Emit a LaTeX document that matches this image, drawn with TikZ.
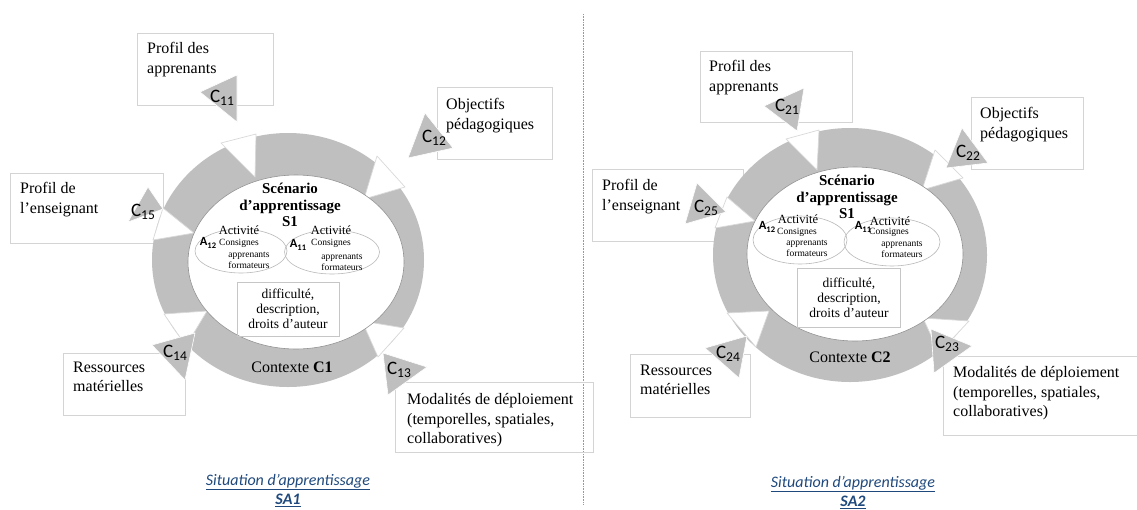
\documentclass[tikz,border=0pt]{standalone}
\usepackage{fontspec}
\setmainfont{Liberation Serif}
\newfontfamily\calibri{Carlito}
\usepackage{xcolor}
\usepackage{tikz}
\usetikzlibrary{positioning,shapes.geometric}

\definecolor{ringgray}{HTML}{BFBFBF}
\definecolor{boxline}{HTML}{D4D4D4}
\definecolor{gapline}{HTML}{D9D9D9}
\definecolor{titleblue}{HTML}{1F497D}

\newcommand{\clab}[1]{{\calibri\fontsize{19}{19}\selectfont C\raisebox{-0.3ex}{\fontsize{13.5}{13.5}\selectfont #1}}}
\newcommand{\alab}[1]{{\calibri\bfseries\fontsize{12.5}{12.5}\selectfont A\raisebox{-0.35ex}{\fontsize{8.5}{8.5}\selectfont #1}}}

\begin{document}
\begin{tikzpicture}[
    x=1pt, y=-1pt,
    infobox/.style={draw=boxline, line width=0.7pt},
    boxtext/.style={anchor=north west, inner sep=0pt, align=left, font=\fontsize{16}{19.5}\selectfont},
    ctri/.style={fill=ringgray, draw=white, line width=0.6pt, line join=round},
    clabel/.style={inner sep=0pt},
    gapwedge/.style={fill=white, draw=gapline, line width=0.7pt, line join=round},
    coreell/.style={ellipse, fill=white, draw=gray!85, line width=0.6pt, inner sep=0pt},
    actell/.style={ellipse, draw=gray!55, line width=0.6pt, inner sep=0pt},
    scentext/.style={align=center, inner sep=0pt, font=\bfseries\fontsize{15}{16.8}\selectfont},
    acttitle/.style={inner sep=0pt, font=\fontsize{12.5}{12.5}\selectfont},
    actsmall/.style={inner sep=0pt, align=center, font=\fontsize{9.5}{11}\selectfont},
    detailbox/.style={draw=gray!45, line width=0.6pt, align=center, inner sep=0pt, font=\fontsize{13.5}{15}\selectfont},
    ctxtext/.style={inner sep=0pt, font=\fontsize{16}{16}\selectfont},
    sittitle/.style={align=center, inner sep=0pt, text=titleblue, font=\calibri\itshape\fontsize{16}{19}\selectfont},
    sepline/.style={densely dotted, draw=gray!80, line width=0.6pt}
]
\useasboundingbox (0,0) rectangle (1137,509);
\fill[white] (0,0) rectangle (1137,509);

% Separator
\coordinate (sep_top) at (583,14);
\coordinate (sep_bot) at (583,505);
\draw[sepline] (sep_top) -- (sep_bot);

% Situation SA1 - boxes
\draw[infobox] (137,33) rectangle (273,105);
\draw[infobox] (10,173) rectangle (163,243);
\draw[infobox] (437,87) rectangle (552,159);
\draw[infobox] (63,353) rectangle (185,415);
\draw[infobox] (395,382) rectangle (593,452);
\node[boxtext] (profil_app_a) at (147,42.5) {Profil des\\apprenants};
\node[boxtext] (profil_ens_a) at (20,182.5) {Profil de\\l’enseignant};
\node[boxtext] (objectifs_a) at (446,98.5) {Objectifs\\pédagogiques};
\node[boxtext] (ressources_a) at (73,361.5) {Ressources\\matérielles};
\node[boxtext] (modalites_a) at (407,393.5) {Modalités de déploiement\\(temporelles, spatiales,\\collaboratives)};

% Situation SA1 - ring
\fill[ringgray] (288,260) ellipse [x radius=136, y radius=127];
\filldraw[gapwedge] (377,156) -- (364,199) -- (405,187) -- cycle;
\filldraw[gapwedge] (221,143) -- (255,177) -- (256,134) -- cycle;
\filldraw[gapwedge] (163,208) -- (194,233) -- (153,240) -- cycle;
\filldraw[gapwedge] (164,314) -- (207,311) -- (186,346) -- cycle;
\filldraw[gapwedge] (378,357) -- (362,321) -- (404,328) -- cycle;

% Situation SA1 - scenario
\node[coreell, minimum width=216pt, minimum height=174pt] (core_a) at (296,262) {};
\node[actell, minimum width=92pt, minimum height=44pt] (act12_a) at (241,251) {};
\node[actell, minimum width=95pt, minimum height=44pt] (act11_a) at (332,252) {};
\node[scentext] (scen_a) at (290,205) {Scénario\\d’apprentissage\\S1};
\node[acttitle] (act12_a_t) at (239,230) {Activité};
\node[inner sep=0pt] (a12_a) at (208,243) {\alab{12}};
\node[actsmall] (act12_a_c) at (239,243) {Consignes};
\node[actsmall] (act12_a_r) at (249,260.5) {apprenants\\formateurs};
\node[acttitle] (act11_a_t) at (331,230) {Activité};
\node[inner sep=0pt] (a11_a) at (298,245) {\alab{11}};
\node[actsmall] (act11_a_c) at (331,243) {Consignes};
\node[actsmall] (act11_a_r) at (342,262) {apprenants\\formateurs};
\node[detailbox, minimum width=102pt, minimum height=54pt] (detail_a) at (288,309) {difficulté,\\description,\\droits d’auteur};
\node[ctxtext] (ctx_a) at (292,367) {Contexte \textbf{C1}};

% Situation SA1 - components
\filldraw[ctri] (200,92) -- (237,75) -- (237,122) -- cycle;
\filldraw[ctri] (425,113) -- (408,158) -- (453,148) -- cycle;
\filldraw[ctri] (383,353) -- (427,367) -- (388,395) -- cycle;
\filldraw[ctri] (152,345) -- (195,333) -- (185,380) -- cycle;
\filldraw[ctri] (148,187) -- (128,222) -- (163,209) -- cycle;
\node[clabel] (c11) at (222,98) {\clab{11}};
\node[clabel] (c12) at (434,138) {\clab{12}};
\node[clabel] (c13) at (399,370) {\clab{13}};
\node[clabel] (c14) at (175,353) {\clab{14}};
\node[clabel] (c15) at (143,212) {\clab{15}};

\node[sittitle] (sa1) at (288,490.5) {\underline{Situation d’apprentissage}\\\underline{\bfseries SA1}};

% Situation SA2 - boxes
\draw[infobox] (700,51) rectangle (852,122);
\draw[infobox] (592,169) rectangle (743,241);
\draw[infobox] (971,97) rectangle (1083,169);
\draw[infobox] (630,354) rectangle (750,417);
\draw[infobox] (943,356) rectangle (1137,435);
\node[boxtext] (profil_app_b) at (709,60.5) {Profil des\\apprenants};
\node[boxtext] (profil_ens_b) at (602,179.5) {Profil de\\l’enseignant};
\node[boxtext] (objectifs_b) at (980,107.5) {Objectifs\\pédagogiques};
\node[boxtext] (ressources_b) at (640,364.5) {Ressources\\matérielles};
\node[boxtext] (modalites_b) at (953,366.5) {Modalités de déploiement\\(temporelles, spatiales,\\collaboratives)};

% Situation SA2 - ring
\fill[ringgray] (850,255) ellipse [x radius=137, y radius=127];
\filldraw[gapwedge] (935,150) -- (922,190) -- (963,178) -- cycle;
\filldraw[gapwedge] (786,139) -- (817,170) -- (819,130) -- cycle;
\filldraw[gapwedge] (727,197) -- (755,221) -- (715,228) -- cycle;
\filldraw[gapwedge] (727,313) -- (769,311) -- (756,347) -- cycle;
\filldraw[gapwedge] (939,353) -- (923,318) -- (969,321) -- cycle;

% Situation SA2 - scenario
\node[coreell, minimum width=216pt, minimum height=174pt] (core_b) at (855,254) {};
\node[actell, minimum width=94pt, minimum height=48pt] (act12_b) at (800,240) {};
\node[actell, minimum width=96pt, minimum height=48pt] (act11_b) at (892,242) {};
\node[scentext] (scen_b) at (847,197) {Scénario\\d’apprentissage\\S1};
\node[acttitle] (act12_b_t) at (798,219) {Activité};
\node[inner sep=0pt] (a12_b) at (767,227) {\alab{12}};
\node[actsmall] (act12_b_c) at (797,232) {Consignes};
\node[actsmall] (act12_b_r) at (807,248) {apprenants\\formateurs};
\node[acttitle] (act11_b_t) at (890,221) {Activité};
\node[inner sep=0pt] (a11_b) at (863,227) {\alab{11}};
\node[actsmall] (act11_b_c) at (889,232) {Consignes};
\node[actsmall] (act11_b_r) at (902,249) {apprenants\\formateurs};
\node[detailbox, minimum width=103pt, minimum height=59pt] (detail_b) at (849,298) {difficulté,\\description,\\droits d’auteur};
\node[ctxtext] (ctx_b) at (850,357) {Contexte \textbf{C2}};

% Situation SA2 - components
\filldraw[ctri] (764,106) -- (804,88) -- (797,131) -- cycle;
\filldraw[ctri] (962,128) -- (946,168) -- (988,163) -- cycle;
\filldraw[ctri] (931,329) -- (972,346) -- (934,373) -- cycle;
\filldraw[ctri] (705,348) -- (747,336) -- (739,378) -- cycle;
\filldraw[ctri] (697,183) -- (685,224) -- (726,212) -- cycle;
\node[clabel] (c21) at (787,107) {\clab{21}};
\node[clabel] (c22) at (968,153) {\clab{22}};
\node[clabel] (c23) at (947,344) {\clab{23}};
\node[clabel] (c24) at (728,354) {\clab{24}};
\node[clabel] (c25) at (706,208) {\clab{25}};

\node[sittitle] (sa2) at (853,492.5) {\underline{Situation d’apprentissage}\\\underline{\bfseries SA2}};

\end{tikzpicture}
\end{document}
